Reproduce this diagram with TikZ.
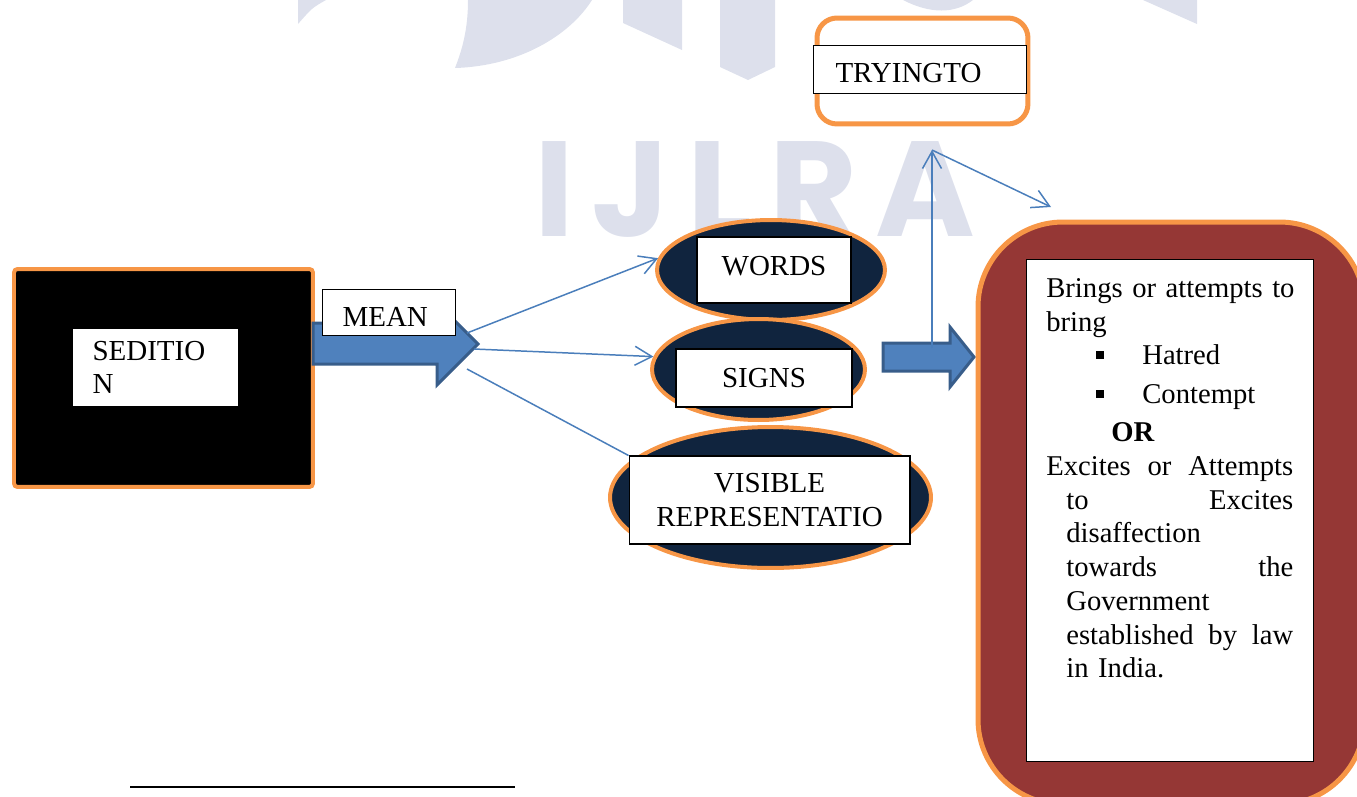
\documentclass[tikz,border=0pt]{standalone}
\usepackage{fontspec}
\setmainfont{Liberation Serif}
\newfontfamily\markfont{Poppins}[LetterSpace=13]
\usetikzlibrary{arrows.meta,shapes.geometric,positioning}

\definecolor{rimorange}{HTML}{F79646}
\definecolor{ovalnavy}{HTML}{10243E}
\definecolor{crimered}{HTML}{953735}
\definecolor{arrowblue}{HTML}{4F81BD}
\definecolor{arrowedge}{HTML}{385D8A}
\definecolor{linkblue}{HTML}{4A7EBB}
\definecolor{markgray}{HTML}{DDE0EC}

\tikzset{
  labelbox/.style={draw=black, line width=0.6pt, fill=white, inner sep=0pt,
    font=\fontsize{16.5}{19.2}\selectfont},
  oval/.style={ellipse, draw=rimorange, line width=0.08cm, fill=ovalnavy, inner sep=0pt},
  link/.style={draw=linkblue, line width=0.85pt, -{Straight Barb[length=0.34cm,width=0.38cm]}},
  plainlink/.style={draw=linkblue, line width=0.85pt},
  blockarrow/.style={fill=arrowblue, draw=arrowedge, line width=0.06cm, line join=miter},
}

\begin{document}
\begin{tikzpicture}[x=0.02cm, y=-0.02cm]
    \useasboundingbox (0,0) rectangle (1357,796);
    \clip (0,0) rectangle (1357,796);

    % Watermark in the background
    \fill[markgray] (298,24) -- (298,0) -- (326,0) .. controls (312,8) .. (298,24) -- cycle;
    \fill[markgray] (468,0) .. controls (468,30) and (462,50) .. (455,68)
        .. controls (520,66) and (570,35) .. (592,0) -- cycle;
    \fill[markgray] (623,0) -- (682,0) -- (682,50) -- (623,23) -- cycle;
    \fill[markgray] (720,0) -- (775,0) -- (775,67) -- (748,80) -- (720,67) -- cycle;
    \fill[markgray] (903,0) .. controls (930,14) and (955,14) .. (973,0) -- cycle;
    \fill[markgray] (1143,0) -- (1197,0) -- (1197,24) -- cycle;
    \node[text=markgray, inner sep=0pt, anchor=base west,
        font=\markfont\bfseries\fontsize{77}{77}\selectfont] (mark) at (534,236) {IJLRA};

    % Draw the sedition block
    \node[draw=rimorange, line width=0.08cm, fill=black, rounded corners=2pt,
        minimum width=5.98cm, minimum height=4.36cm, anchor=north west] (sedition) at (12,267) {};
    \node[labelbox, minimum width=3.32cm, minimum height=1.56cm, text width=2.52cm,
        inner xsep=0.4cm, align=left, anchor=north west] (sedtxt) at (72,328) {SEDITIO\\N};

    % Draw the MEAN block arrow
    \draw[blockarrow] (313,323) -- (437,323) -- (437,303) -- (478,344) -- (437,385)
        -- (437,364) -- (313,364) -- cycle;
    \node[labelbox, minimum width=2.66cm, minimum height=0.92cm, text width=1.86cm,
        inner xsep=0.4cm, text height=0.56cm, align=left, anchor=north west] (mean) at (322,289) {MEAN};

    % Draw the three ovals
    \node[oval, minimum width=4.56cm, minimum height=2.0cm] (words) at (771,270) {};
    \node[labelbox, minimum width=3.08cm, minimum height=1.32cm, text depth=0.16cm] (wordstxt) at (774,270) {WORDS};
    \node[oval, minimum width=4.26cm, minimum height=2.02cm] (signs) at (758.5,369.5) {};
    \node[labelbox, minimum width=3.52cm, minimum height=1.16cm] (signstxt) at (764,378) {SIGNS};
    \node[oval, minimum width=6.42cm, minimum height=2.82cm] (visible) at (770.5,497.5) {};
    \node[labelbox, minimum width=5.62cm, minimum height=1.76cm, align=center] (vistxt) at (769.5,500)
        {VISIBLE\\REPRESENTATIO};

    % Draw the links out of the MEAN arrow
    \coordinate (fanA) at (467,333);
    \coordinate (fanB) at (474,349);
    \coordinate (fanC) at (467,369);
    \draw[link] (fanA) -- (words.174);
    \draw[link] (fanB) -- (signs.173);
    \draw[plainlink] (fanC) -- (vistxt.north west);

    % Draw the second block arrow
    \draw[blockarrow] (883,343) -- (950,343) -- (950,327) -- (974,357) -- (950,387)
        -- (950,371) -- (883,371) -- cycle;

    % Draw the TRYINGTO box
    \node[draw=rimorange, line width=0.1cm, fill=white, rounded corners=0.4cm,
        minimum width=4.22cm, minimum height=2.12cm, anchor=north west] (trying) at (814.5,15.5) {};
    \node[labelbox, minimum width=4.26cm, minimum height=0.96cm, text width=3.38cm,
        inner xsep=0.44cm, text height=0.54cm, align=left, anchor=north west] (tryingtxt) at (813,45) {TRYINGTO};

    % Draw the big red block
    \node[draw=rimorange, line width=0.1cm, fill=crimered, rounded corners=1.7cm,
        minimum width=7.73cm, minimum height=11.65cm, anchor=north west] (crime) at (975.5,219.5) {};
    \node[labelbox, minimum width=5.74cm, minimum height=10.04cm, anchor=north west] (crimebox) at (1026,259) {};
    \node[font=\fontsize{16.3}{19.2}\selectfont, text width=5.2cm, align=left, inner sep=0pt,
        anchor=north west] (crimetxt) at (1046,278) {%
        Brings or attempts to\\
        bring\\
        \hspace*{1.0cm}\raisebox{0.12cm}{\rule{0.16cm}{0.16cm}}\hspace*{0.76cm}Hatred\\[0.1cm]
        \hspace*{1.0cm}\raisebox{0.12cm}{\rule{0.16cm}{0.16cm}}\hspace*{0.76cm}Contempt\\[0.09cm]
        \hspace*{1.3cm}\textbf{OR}\\
        \makebox[4.94cm][l]{Excites\hfill or\hfill Attempts}\\
        \hspace*{0.4cm}\makebox[4.54cm][l]{to\hfill Excites}\\
        \hspace*{0.4cm}disaffection\\
        \hspace*{0.4cm}\makebox[4.54cm][l]{towards\hfill the}\\
        \hspace*{0.4cm}Government\\
        \hspace*{0.4cm}\makebox[4.54cm][l]{established\hfill by\hfill law}\\
        \hspace*{0.4cm}in India.};

    % Draw the links round the TRYINGTO box
    \coordinate (riser) at (932,348);
    \coordinate (turn) at (932,150);
    \coordinate (drop) at (1051,207);
    \draw[link] (riser) -- (turn);
    \draw[link] (turn) -- (drop);

    % Draw the rule at the bottom
    \draw[line width=0.05cm] (130,787) -- (515,787);
\end{tikzpicture}
\end{document}
